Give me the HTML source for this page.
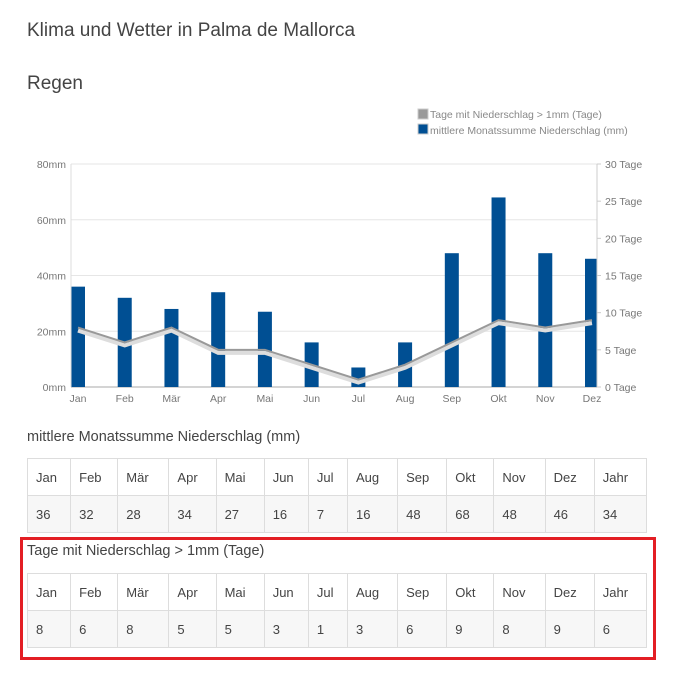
<!DOCTYPE html>
<html><head><meta charset="utf-8">
<style>
body{margin:0;width:681px;height:679px;background:#fff;font-family:"Liberation Sans",sans-serif;color:#444;position:relative;overflow:hidden}
.t{position:absolute;white-space:nowrap}
table{position:absolute;border-collapse:collapse;font-size:13px;color:#444}
td{border:1px solid #ddd;padding:0 0 0 8px;height:36px;text-align:left}
tr.v td{background:#f7f7f7}
</style></head><body>
<div class="t" style="left:27px;top:20px;font-size:19px;color:#444">Klima und Wetter in Palma de Mallorca</div>
<div class="t" style="left:27px;top:73px;font-size:19px;color:#444">Regen</div>
<svg width="681" height="420" style="position:absolute;left:0;top:0" font-family="Liberation Sans, sans-serif">
<g id="legend">
<rect x="418" y="109" width="10" height="10" fill="#999" stroke="#ccc"/>
<text x="430" y="118" font-size="10.5" fill="#888">Tage mit Niederschlag &gt; 1mm (Tage)</text>
<rect x="418" y="124" width="10" height="10" fill="#004f93" stroke="#ccc"/>
<text x="430" y="134" font-size="10.5" fill="#888">mittlere Monatssumme Niederschlag (mm)</text>
</g>
<g id="grid"></g><g id="bars"></g><g id="line"></g><g id="axes"></g>
</svg>
<script>
const months=["Jan","Feb","Mär","Apr","Mai","Jun","Jul","Aug","Sep","Okt","Nov","Dez"];
const rainMm=[36,32,28,34,27,16,7,16,48,68,48,46];
const rainDays=[8,6,8,5,5,3,1,3,6,9,8,9];
const leftTicks=[0,20,40,60,80];
const rightTicks=[0,5,10,15,20,25,30];
const NS="http://www.w3.org/2000/svg";
const x0=71,x1=597,yB=387,yT=164;
const xC=i=>78+i*(592-78)/11;
const yL=v=>yB-(v/80)*(yB-yT);
const yR=v=>yB-(v/30)*(yB-yT);
function mk(t,a,p){const e=document.createElementNS(NS,t);for(const k in a)e.setAttribute(k,a[k]);p.appendChild(e);return e;}
const g=document.getElementById('grid'),b=document.getElementById('bars'),l=document.getElementById('line'),ax=document.getElementById('axes');
leftTicks.forEach(v=>{
 const ln=mk('line',{x1:x0,x2:x1,y1:yL(v),y2:yL(v),stroke:v?'#e6e6e6':'#aaa'},g);
 
 
 const t=mk('text',{x:66,y:yL(v)+4,'font-size':10.5,fill:'#777','text-anchor':'end'},ax);t.textContent=v+'mm';
 
 
});
mk('line',{x1:x0,x2:x0,y1:yT,y2:yB,stroke:'#ddd'},ax);
mk('line',{x1:x1,x2:x1,y1:yT,y2:yB,stroke:'#ccc'},ax);
rightTicks.forEach(v=>{
 mk('line',{x1:x1,x2:x1+4,y1:yR(v),y2:yR(v),stroke:'#ccc'},ax);
 const t=mk('text',{x:605,y:yR(v)+4,'font-size':10.5,fill:'#777'},ax);t.textContent=v+' Tage';
 
 
});
rainMm.forEach((v,i)=>{
 let xa=Math.max(x0,xC(i)-7),xb=Math.min(x1,xC(i)+7);
 const r=mk('rect',{x:xa,y:yL(v),width:xb-xa,height:yB-yL(v),fill:'#004f93'},b);
 
 
 const t=mk('text',{x:xC(i),y:402,'font-size':10.5,fill:'#777','text-anchor':'middle'},ax);t.textContent=months[i];
 
 
});
const pts=rainDays.map((v,i)=>xC(i)+','+yR(v)).join(' ');
const sh=mk('polyline',{points:rainDays.map((v,i)=>xC(i)+','+(yR(v)+3)).join(' '),fill:'none',stroke:'#ddd','stroke-width':4},l);


const pl=mk('polyline',{points:pts,fill:'none',stroke:'#999','stroke-width':2},l);


</script>
<div class="t" style="left:27px;top:429px;font-size:14.5px">mittlere Monatssumme Niederschlag (mm)</div>
<table style="left:27px;top:458px;width:620px">
<colgroup><col style="width:43px"><col style="width:47px"><col style="width:51px"><col style="width:47px"><col style="width:48px"><col style="width:44px"><col style="width:39px"><col style="width:50px"><col style="width:49px"><col style="width:47px"><col style="width:51px"><col style="width:49px"><col style="width:52px"></colgroup>
<tr><td>Jan</td><td>Feb</td><td>Mär</td><td>Apr</td><td>Mai</td><td>Jun</td><td>Jul</td><td>Aug</td><td>Sep</td><td>Okt</td><td>Nov</td><td>Dez</td><td>Jahr</td></tr>
<tr class="v"><td>36</td><td>32</td><td>28</td><td>34</td><td>27</td><td>16</td><td>7</td><td>16</td><td>48</td><td>68</td><td>48</td><td>46</td><td>34</td></tr>
</table>
<div style="position:absolute;left:20px;top:537px;width:630px;height:117px;border:3px solid #e31e24"></div>
<div class="t" style="left:27px;top:543px;font-size:14.5px">Tage mit Niederschlag &gt; 1mm (Tage)</div>
<table style="left:27px;top:573px;width:620px">
<colgroup><col style="width:43px"><col style="width:47px"><col style="width:51px"><col style="width:47px"><col style="width:48px"><col style="width:44px"><col style="width:39px"><col style="width:50px"><col style="width:49px"><col style="width:47px"><col style="width:51px"><col style="width:49px"><col style="width:52px"></colgroup>
<tr><td>Jan</td><td>Feb</td><td>Mär</td><td>Apr</td><td>Mai</td><td>Jun</td><td>Jul</td><td>Aug</td><td>Sep</td><td>Okt</td><td>Nov</td><td>Dez</td><td>Jahr</td></tr>
<tr class="v"><td>8</td><td>6</td><td>8</td><td>5</td><td>5</td><td>3</td><td>1</td><td>3</td><td>6</td><td>9</td><td>8</td><td>9</td><td>6</td></tr>
</table>
</body></html>
